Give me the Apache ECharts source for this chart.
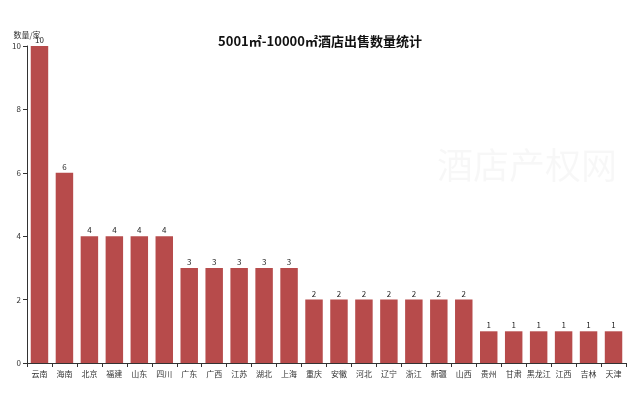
<!DOCTYPE html>
<html><head><meta charset="utf-8">
<script src="https://cdn.jsdelivr.net/npm/echarts@6/dist/echarts.min.js"></script>
<style>html,body{margin:0;padding:0;background:#fff}#c{width:640px;height:395px}</style>
</head><body><div id="c"></div>
<script>
const categories = ['云南','海南','北京','福建','山东','四川','广东','广西','江苏','湖北','上海','重庆','安徽','河北','辽宁','浙江','新疆','山西','贵州','甘肃','黑龙江','江西','吉林','天津'];
const values = [10,6,4,4,4,4,3,3,3,3,3,2,2,2,2,2,2,2,1,1,1,1,1,1];
const yTicks = [0,2,4,6,8,10];
const chart = echarts.init(document.getElementById('c'));
const font = '"Noto Sans CJK SC", "DejaVu Sans", sans-serif';
chart.setOption({
  animation:false,
  backgroundColor:'#fff',
  title:{text:'5001㎡-10000㎡酒店出售数量统计',left:'center',top:30,
    textStyle:{fontSize:13,fontWeight:'bold',color:'#111',fontFamily:font}},
  graphic:[{type:'text',left:437,top:147,style:{text:'酒店产权网',fontSize:36,fontFamily:font,fill:'rgba(0,0,0,0.03)'}}],
  grid:{left:27,right:14,top:46,bottom:32},
  xAxis:{type:'category',data:categories,
    axisLine:{lineStyle:{color:'#333',width:1}},
    axisTick:{show:true,alignWithLabel:false,length:4,lineStyle:{color:'#333'}},
    axisLabel:{fontSize:8,color:'#333',margin:7,interval:0,fontFamily:font}},
  yAxis:{type:'value',min:yTicks[0],max:yTicks[yTicks.length-1],interval:2,
    name:'数量/家',nameLocation:'end',nameGap:7,nameTextStyle:{fontSize:8,color:'#333',align:'center',fontFamily:font},
    axisLine:{show:true,lineStyle:{color:'#333'}},
    axisTick:{show:true,length:4,lineStyle:{color:'#333'}},
    splitLine:{show:false},
    axisLabel:{fontSize:8,color:'#333',margin:6,fontFamily:font}},
  series:[{type:'bar',data:values,barWidth:'70%',
    itemStyle:{color:'#b74b4b'},
    label:{show:true,position:'top',fontSize:8,color:'#222',distance:2,fontFamily:font}}]
});
</script></body></html>
